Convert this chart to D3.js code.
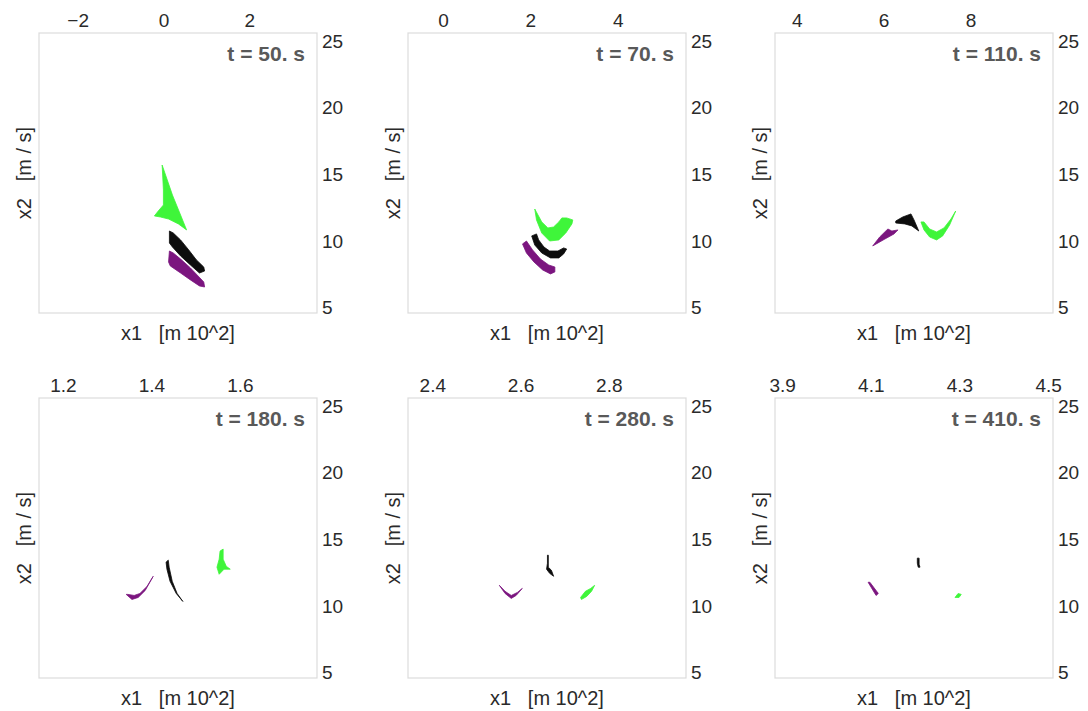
<!DOCTYPE html>
<html>
<head>
<meta charset="utf-8">
<script src="https://cdn.jsdelivr.net/npm/d3@7"></script>
<style>
  html, body { margin: 0; padding: 0; background: #fff; }
  svg { display: block; font-family: "Liberation Sans", Arial, sans-serif; }
</style>
</head>
<body>
<svg id="chart" width="1088" height="711"></svg>
<script>
// ---- data ----
const times = [50, 70, 110, 180, 280, 410];
const xDomains = [[-2.9, 3.58], [-0.8, 5.56], [3.5, 9.9], [1.146, 1.774], [2.345, 2.975], [3.884, 4.511]];
const xTicks = [[-2, 0, 2], [0, 2, 4], [4, 6, 8], [1.2, 1.4, 1.6], [2.4, 2.6, 2.8], [3.9, 4.1, 4.3, 4.5]];
const yDomain = [4.6, 25.6];
const yTicks = [5, 10, 15, 20, 25];
const xLabel = "x1   [m 10^2]";
const yLabel = "x2   [m / s]";

// region outlines [x1, x2] per snapshot
const greenRegions = [
  [[-0.03,15.70],[0.21,13.45],[0.40,11.95],[0.54,10.83],[0.35,11.28],[0.12,11.65],[-0.07,11.80],[-0.21,11.88],[-0.12,12.25],[0.0,12.70],[0.0,13.83]],
  [[2.10,12.40],[2.14,11.58],[2.26,10.60],[2.44,10.00],[2.65,10.08],[2.81,10.60],[2.95,11.28],[2.97,11.58],[2.83,11.73],[2.72,11.73],[2.65,11.43],[2.53,11.05],[2.40,10.98],[2.26,11.43]],
  [[6.86,11.43],[6.93,10.83],[7.06,10.30],[7.22,10.08],[7.36,10.38],[7.52,11.20],[7.66,12.25],[7.55,11.65],[7.39,10.98],[7.22,10.68],[7.06,10.90],[6.93,11.43]],
  [[1.555,14.12],[1.562,14.27],[1.562,13.51],[1.569,12.98],[1.578,12.76],[1.564,12.76],[1.553,12.38],[1.548,12.91],[1.553,13.51]],
  [[2.736,10.64],[2.747,11.10],[2.759,11.32],[2.768,11.55],[2.761,11.10],[2.750,10.72],[2.738,10.49]],
  [[4.290,10.64],[4.297,10.94],[4.304,10.87],[4.299,10.64]]
];
const blackRegions = [
  [[0.14,10.75],[0.23,10.60],[0.40,10.08],[0.59,9.33],[0.77,8.58],[0.94,8.05],[0.96,7.75],[0.84,7.60],[0.63,8.20],[0.40,8.88],[0.21,9.55],[0.14,9.85]],
  [[2.03,10.38],[2.10,9.70],[2.26,9.10],[2.46,8.73],[2.65,8.73],[2.76,9.03],[2.83,9.40],[2.76,9.48],[2.63,9.25],[2.44,9.25],[2.31,9.55],[2.19,10.08],[2.14,10.53]],
  [[6.28,11.50],[6.44,11.80],[6.63,12.03],[6.70,11.58],[6.81,10.75],[6.65,11.13],[6.49,11.28],[6.28,11.35]],
  [[1.433,13.29],[1.438,13.44],[1.440,12.91],[1.447,11.85],[1.458,10.94],[1.471,10.34],[1.456,10.94],[1.442,11.85],[1.435,12.76]],
  [[2.661,13.81],[2.663,13.81],[2.663,12.91],[2.670,12.68],[2.675,12.23],[2.666,12.45],[2.659,12.76],[2.661,13.21]],
  [[4.205,13.59],[4.209,13.59],[4.209,13.13],[4.211,12.91],[4.207,12.91],[4.205,13.21]]
];
const purpleRegions = [
  [[0.14,9.25],[0.23,9.10],[0.40,8.65],[0.63,7.98],[0.94,6.93],[0.96,6.55],[0.84,6.63],[0.63,7.08],[0.40,7.60],[0.16,8.13],[0.12,8.43]],
  [[1.82,9.78],[1.91,10.00],[2.05,9.33],[2.23,8.65],[2.42,8.20],[2.56,8.05],[2.56,7.68],[2.46,7.53],[2.28,7.83],[2.08,8.43],[1.91,9.10]],
  [[5.75,9.63],[5.91,10.30],[6.05,10.75],[6.10,10.90],[6.19,10.75],[6.33,10.83],[6.24,10.53],[6.03,10.15]],
  [[1.343,10.87],[1.356,10.49],[1.370,10.64],[1.386,11.17],[1.404,12.23],[1.390,11.47],[1.374,10.94],[1.361,10.79],[1.347,10.87]],
  [[2.552,11.55],[2.565,10.94],[2.579,10.57],[2.590,10.79],[2.604,11.32],[2.593,11.02],[2.579,10.79],[2.565,11.10]],
  [[4.094,11.78],[4.098,11.78],[4.117,10.94],[4.112,10.79]]
];

// ---- layout ----
const colLeft = [39, 408, 775];
const rowTop = [33, 398];
const pw = 278, ph = 280;
const colors = { purple: "#7b157f", black: "#0d0d0d", green: "#3ff53a" };

const svg = d3.select("#chart");

times.forEach((t, i) => {
  const col = i % 3, row = Math.floor(i / 3);
  const g = svg.append("g").attr("transform", `translate(${colLeft[col]},${rowTop[row]})`);
  const x = d3.scaleLinear().domain(xDomains[i]).range([0, pw]);
  const y = d3.scaleLinear().domain(yDomain).range([ph, 0]);
  const line = d3.line().x(d => x(d[0])).y(d => y(d[1])).curve(d3.curveLinearClosed);

  // frame
  g.append("rect").attr("x", 0).attr("y", 0).attr("width", pw).attr("height", ph)
    .attr("fill", "#fff").attr("stroke", "#dcdcdc").attr("stroke-width", 1.2);

  // regions
  [[purpleRegions, colors.purple], [blackRegions, colors.black], [greenRegions, colors.green]].forEach(([arr, c]) => {
    g.append("path").attr("d", line(arr[i])).attr("fill", c)
      .attr("stroke", c).attr("stroke-width", 0.8).attr("stroke-linejoin", "round");
  });

  // top axis
  const ax = g.append("g").call(d3.axisTop(x).tickValues(xTicks[i]).tickSize(0).tickPadding(6)
      .tickFormat(d3.format(i < 3 ? "d" : ".1f")));
  ax.select(".domain").remove();
  ax.selectAll("text").attr("font-size", 19).attr("fill", "#2a2a2a")
    .attr("font-family", "Liberation Sans, Arial, sans-serif");

  // right axis
  const ay = g.append("g").attr("transform", `translate(${pw},0)`)
    .call(d3.axisRight(y).tickValues(yTicks).tickSize(0).tickPadding(5));
  ay.select(".domain").remove();
  ay.selectAll("text").attr("font-size", 19).attr("fill", "#2a2a2a")
    .attr("font-family", "Liberation Sans, Arial, sans-serif");

  // title
  g.append("text").attr("x", pw - 12).attr("y", 28).attr("text-anchor", "end")
    .attr("font-size", 21).attr("font-weight", "bold").attr("fill", "#595959")
    .text(`t = ${t}. s`);

  // axis labels
  g.append("text").attr("x", pw / 2).attr("y", ph + 27).attr("text-anchor", "middle")
    .attr("font-size", 20).attr("fill", "#2a2a2a")
    .style("white-space", "pre").text(xLabel);
  g.append("text").attr("transform", `translate(-8,${ph / 2}) rotate(-90)`)
    .attr("text-anchor", "middle").attr("font-size", 20).attr("fill", "#2a2a2a")
    .style("white-space", "pre").text(yLabel);
});
</script>
</body>
</html>
